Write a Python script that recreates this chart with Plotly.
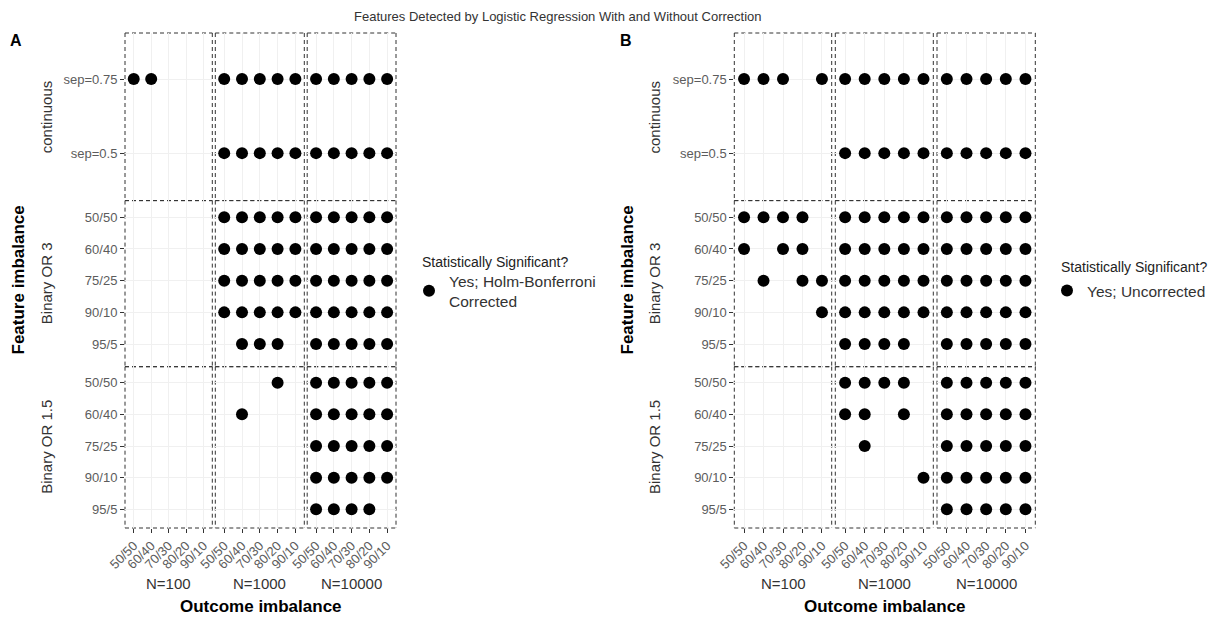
import plotly.graph_objects as go

# ---- data -------------------------------------------------------------
outcome_levels = ["50/50", "60/40", "70/30", "80/20", "90/10"]
sample_sizes = ["N=100", "N=1000", "N=10000"]
feature_groups = ["continuous", "Binary OR 3", "Binary OR 1.5"]
continuous_levels = ["sep=0.75", "sep=0.5"]
binary_levels = ["50/50", "60/40", "75/25", "90/10", "95/5"]

# 1 = feature detected. Each row: 5 outcome levels for N=100, N=1000, N=10000
corrected_continuous = [
    [1, 1, 0, 0, 0, 1, 1, 1, 1, 1, 1, 1, 1, 1, 1],
    [0, 0, 0, 0, 0, 1, 1, 1, 1, 1, 1, 1, 1, 1, 1],
]
corrected_or3 = [
    [0, 0, 0, 0, 0, 1, 1, 1, 1, 1, 1, 1, 1, 1, 1],
    [0, 0, 0, 0, 0, 1, 1, 1, 1, 1, 1, 1, 1, 1, 1],
    [0, 0, 0, 0, 0, 1, 1, 1, 1, 1, 1, 1, 1, 1, 1],
    [0, 0, 0, 0, 0, 1, 1, 1, 1, 1, 1, 1, 1, 1, 1],
    [0, 0, 0, 0, 0, 0, 1, 1, 1, 0, 1, 1, 1, 1, 1],
]
corrected_or15 = [
    [0, 0, 0, 0, 0, 0, 0, 0, 1, 0, 1, 1, 1, 1, 1],
    [0, 0, 0, 0, 0, 0, 1, 0, 0, 0, 1, 1, 1, 1, 1],
    [0, 0, 0, 0, 0, 0, 0, 0, 0, 0, 1, 1, 1, 1, 1],
    [0, 0, 0, 0, 0, 0, 0, 0, 0, 0, 1, 1, 1, 1, 1],
    [0, 0, 0, 0, 0, 0, 0, 0, 0, 0, 1, 1, 1, 1, 0],
]
uncorrected_continuous = [
    [1, 1, 1, 0, 1, 1, 1, 1, 1, 1, 1, 1, 1, 1, 1],
    [0, 0, 0, 0, 0, 1, 1, 1, 1, 1, 1, 1, 1, 1, 1],
]
uncorrected_or3 = [
    [1, 1, 1, 1, 0, 1, 1, 1, 1, 1, 1, 1, 1, 1, 1],
    [1, 0, 1, 1, 0, 1, 1, 1, 1, 1, 1, 1, 1, 1, 1],
    [0, 1, 0, 1, 1, 1, 1, 1, 1, 1, 1, 1, 1, 1, 1],
    [0, 0, 0, 0, 1, 1, 1, 1, 1, 1, 1, 1, 1, 1, 1],
    [0, 0, 0, 0, 0, 1, 1, 1, 1, 0, 1, 1, 1, 1, 1],
]
uncorrected_or15 = [
    [0, 0, 0, 0, 0, 1, 1, 1, 1, 0, 1, 1, 1, 1, 1],
    [0, 0, 0, 0, 0, 1, 1, 0, 1, 0, 1, 1, 1, 1, 1],
    [0, 0, 0, 0, 0, 0, 1, 0, 0, 0, 1, 1, 1, 1, 1],
    [0, 0, 0, 0, 0, 0, 0, 0, 0, 1, 1, 1, 1, 1, 1],
    [0, 0, 0, 0, 0, 0, 0, 0, 0, 0, 1, 1, 1, 1, 1],
]

legend_title = "Statistically Significant?"
corrected_label = "Yes; Holm-Bonferroni<br>Corrected"
uncorrected_label = "Yes; Uncorrected"

# ---- layout geometry (pixels) -----------------------------------------
W, H = 1214, 619
FONT = "Liberation Sans, Arial, sans-serif"


def fx(px):
    return px / W


def fy(py):
    return 1 - py / H


panels = [
    dict(tag="A", rows=[corrected_continuous, corrected_or3, corrected_or15],
         label=corrected_label, legend="legend",
         cols=[(125, 212.3), (215.3, 304.3), (307.2, 396)],
         letter_x=16, ytitle_x=18, strip_x=46.5,
         legtitle=(420, 261.7), legend_pos=(409, 264)),
    dict(tag="B", rows=[uncorrected_continuous, uncorrected_or3, uncorrected_or15],
         label=uncorrected_label, legend="legend2",
         cols=[(734.3, 831.7), (835.3, 933.3), (937, 1035.3)],
         letter_x=625.5, ytitle_x=627, strip_x=654.7,
         legtitle=(1059, 266.7), legend_pos=(1047, 274)),
]
row_edges = [(33, 200.6), (200.6, 366.7), (366.7, 528)]
row_ranges = [[1.641, -0.622], [4.713, -0.524], [4.59, -0.505]]
row_levels = [continuous_levels, binary_levels, binary_levels]

BORDER = dict(color="#333", width=1, dash="4px,3px")

fig = go.Figure()
layout_axes = {}
shapes = []
annotations = []

axis_idx = 0
for panel in panels:
    first_trace = True
    for r, grid in enumerate(panel["rows"]):
        levels = row_levels[r]
        for c, n_label in enumerate(sample_sizes):
            axis_idx += 1
            sfx = "" if axis_idx == 1 else str(axis_idx)
            xs, ys = [], []
            for li, level in enumerate(levels):
                flags = grid[li][c * 5:(c + 1) * 5]
                for k, f in enumerate(flags):
                    if f:
                        xs.append(outcome_levels[k])
                        ys.append(level)
            fig.add_trace(go.Scatter(
                x=xs, y=ys, mode="markers",
                marker=dict(size=12, color="black"),
                name=panel["label"], legend=panel["legend"],
                showlegend=first_trace,
                xaxis="x" + sfx, yaxis="y" + sfx,
            ))
            first_trace = False

            x0, x1 = panel["cols"][c]
            y0, y1 = row_edges[r]
            bottom = r == 2
            left = c == 0
            layout_axes["xaxis" + sfx] = dict(
                domain=[fx(x0), fx(x1)], anchor="y" + sfx,
                type="category", categoryorder="array",
                categoryarray=outcome_levels, range=[-0.5, 4.5],
                showgrid=True, gridcolor="#f0f0f0", gridwidth=1,
                zeroline=False, showline=False, automargin=False,
                ticks="outside" if bottom else "", ticklen=4,
                tickcolor="#333", tickwidth=1,
                showticklabels=bottom, tickangle=-45,
                tickfont=dict(size=13, color="#5c5c5c", family=FONT),
                fixedrange=True,
            )
            layout_axes["yaxis" + sfx] = dict(
                domain=[fy(y1), fy(y0)], anchor="x" + sfx,
                type="category", categoryorder="array",
                categoryarray=levels, range=row_ranges[r],
                showgrid=True, gridcolor="#f0f0f0", gridwidth=1,
                zeroline=False, showline=False, automargin=False,
                ticks="outside" if left else "", ticklen=4,
                tickcolor="#333", tickwidth=1,
                showticklabels=left,
                tickfont=dict(size=13, color="#5c5c5c", family=FONT),
                fixedrange=True,
            )
            xr, yr = "x" + sfx + " domain", "y" + sfx + " domain"
            # dashed facet border, drawn as four separate strokes so that
            # shared edges of neighbouring facets overlap in phase
            for (a0, b0, a1, b1) in [(0, 1, 1, 1), (0, 0, 1, 0), (0, 1, 0, 0), (1, 1, 1, 0)]:
                shapes.append(dict(type="line", xref=xr, yref=yr,
                                   x0=a0, y0=b0, x1=a1, y1=b1,
                                   layer="below", line=BORDER))

    # panel letter
    annotations.append(dict(text="<b>%s</b>" % panel["tag"], x=fx(panel["letter_x"]),
                            y=fy(41), xref="paper", yref="paper", showarrow=False,
                            xanchor="center", yanchor="middle",
                            font=dict(size=16, color="black", family=FONT)))
    # row strips
    for r, g in enumerate(feature_groups):
        yc = (row_edges[r][0] + row_edges[r][1]) / 2
        annotations.append(dict(text=g, x=fx(panel["strip_x"]), y=fy(yc),
                                xref="paper", yref="paper", showarrow=False,
                                textangle=-90, xanchor="center", yanchor="middle",
                                font=dict(size=15, color="#333", family=FONT)))
    # column strips
    for c, n_label in enumerate(sample_sizes):
        xc = (panel["cols"][c][0] + panel["cols"][c][1]) / 2
        annotations.append(dict(text=n_label, x=fx(xc), y=fy(583.5),
                                xref="paper", yref="paper", showarrow=False,
                                xanchor="center", yanchor="middle",
                                font=dict(size=15, color="#333", family=FONT)))
    # axis titles
    xc = (panel["cols"][0][0] + panel["cols"][2][1]) / 2
    annotations.append(dict(text="<b>Outcome imbalance</b>", x=fx(xc), y=fy(606),
                            xref="paper", yref="paper", showarrow=False,
                            xanchor="center", yanchor="middle",
                            font=dict(size=17, color="black", family=FONT)))
    annotations.append(dict(text="<b>Feature imbalance</b>", x=fx(panel["ytitle_x"]),
                            y=fy(280.5), xref="paper", yref="paper", showarrow=False,
                            textangle=-90, xanchor="center", yanchor="middle",
                            font=dict(size=17, color="black", family=FONT)))
    # legend heading
    annotations.append(dict(text=legend_title, x=fx(panel["legtitle"][0]),
                            y=fy(panel["legtitle"][1]), xref="paper", yref="paper",
                            showarrow=False, xanchor="left", yanchor="middle",
                            font=dict(size=14, color="#222", family=FONT)))

annotations.append(dict(text="Features Detected by Logistic Regression With and Without Correction",
                        x=fx(558), y=fy(16), xref="paper", yref="paper", showarrow=False,
                        xanchor="center", yanchor="middle",
                        font=dict(size=13, color="#333", family=FONT)))

legend_common = dict(
    xanchor="left", yanchor="top", bgcolor="rgba(0,0,0,0)", borderwidth=0,
    font=dict(size=15.5, color="#333", family=FONT),
    itemclick=False, itemdoubleclick=False,
)

fig.update_layout(
    template="none",
    width=W, height=H,
    margin=dict(l=0, r=0, t=0, b=0, pad=0),
    paper_bgcolor="white", plot_bgcolor="rgba(0,0,0,0)",
    font=dict(family=FONT),
    shapes=shapes, annotations=annotations,
    legend=dict(x=fx(panels[0]["legend_pos"][0]), y=fy(panels[0]["legend_pos"][1]),
                **legend_common),
    legend2=dict(x=fx(panels[1]["legend_pos"][0]), y=fy(panels[1]["legend_pos"][1]),
                 **legend_common),
    **layout_axes,
)

fig.write_html("out.html")
